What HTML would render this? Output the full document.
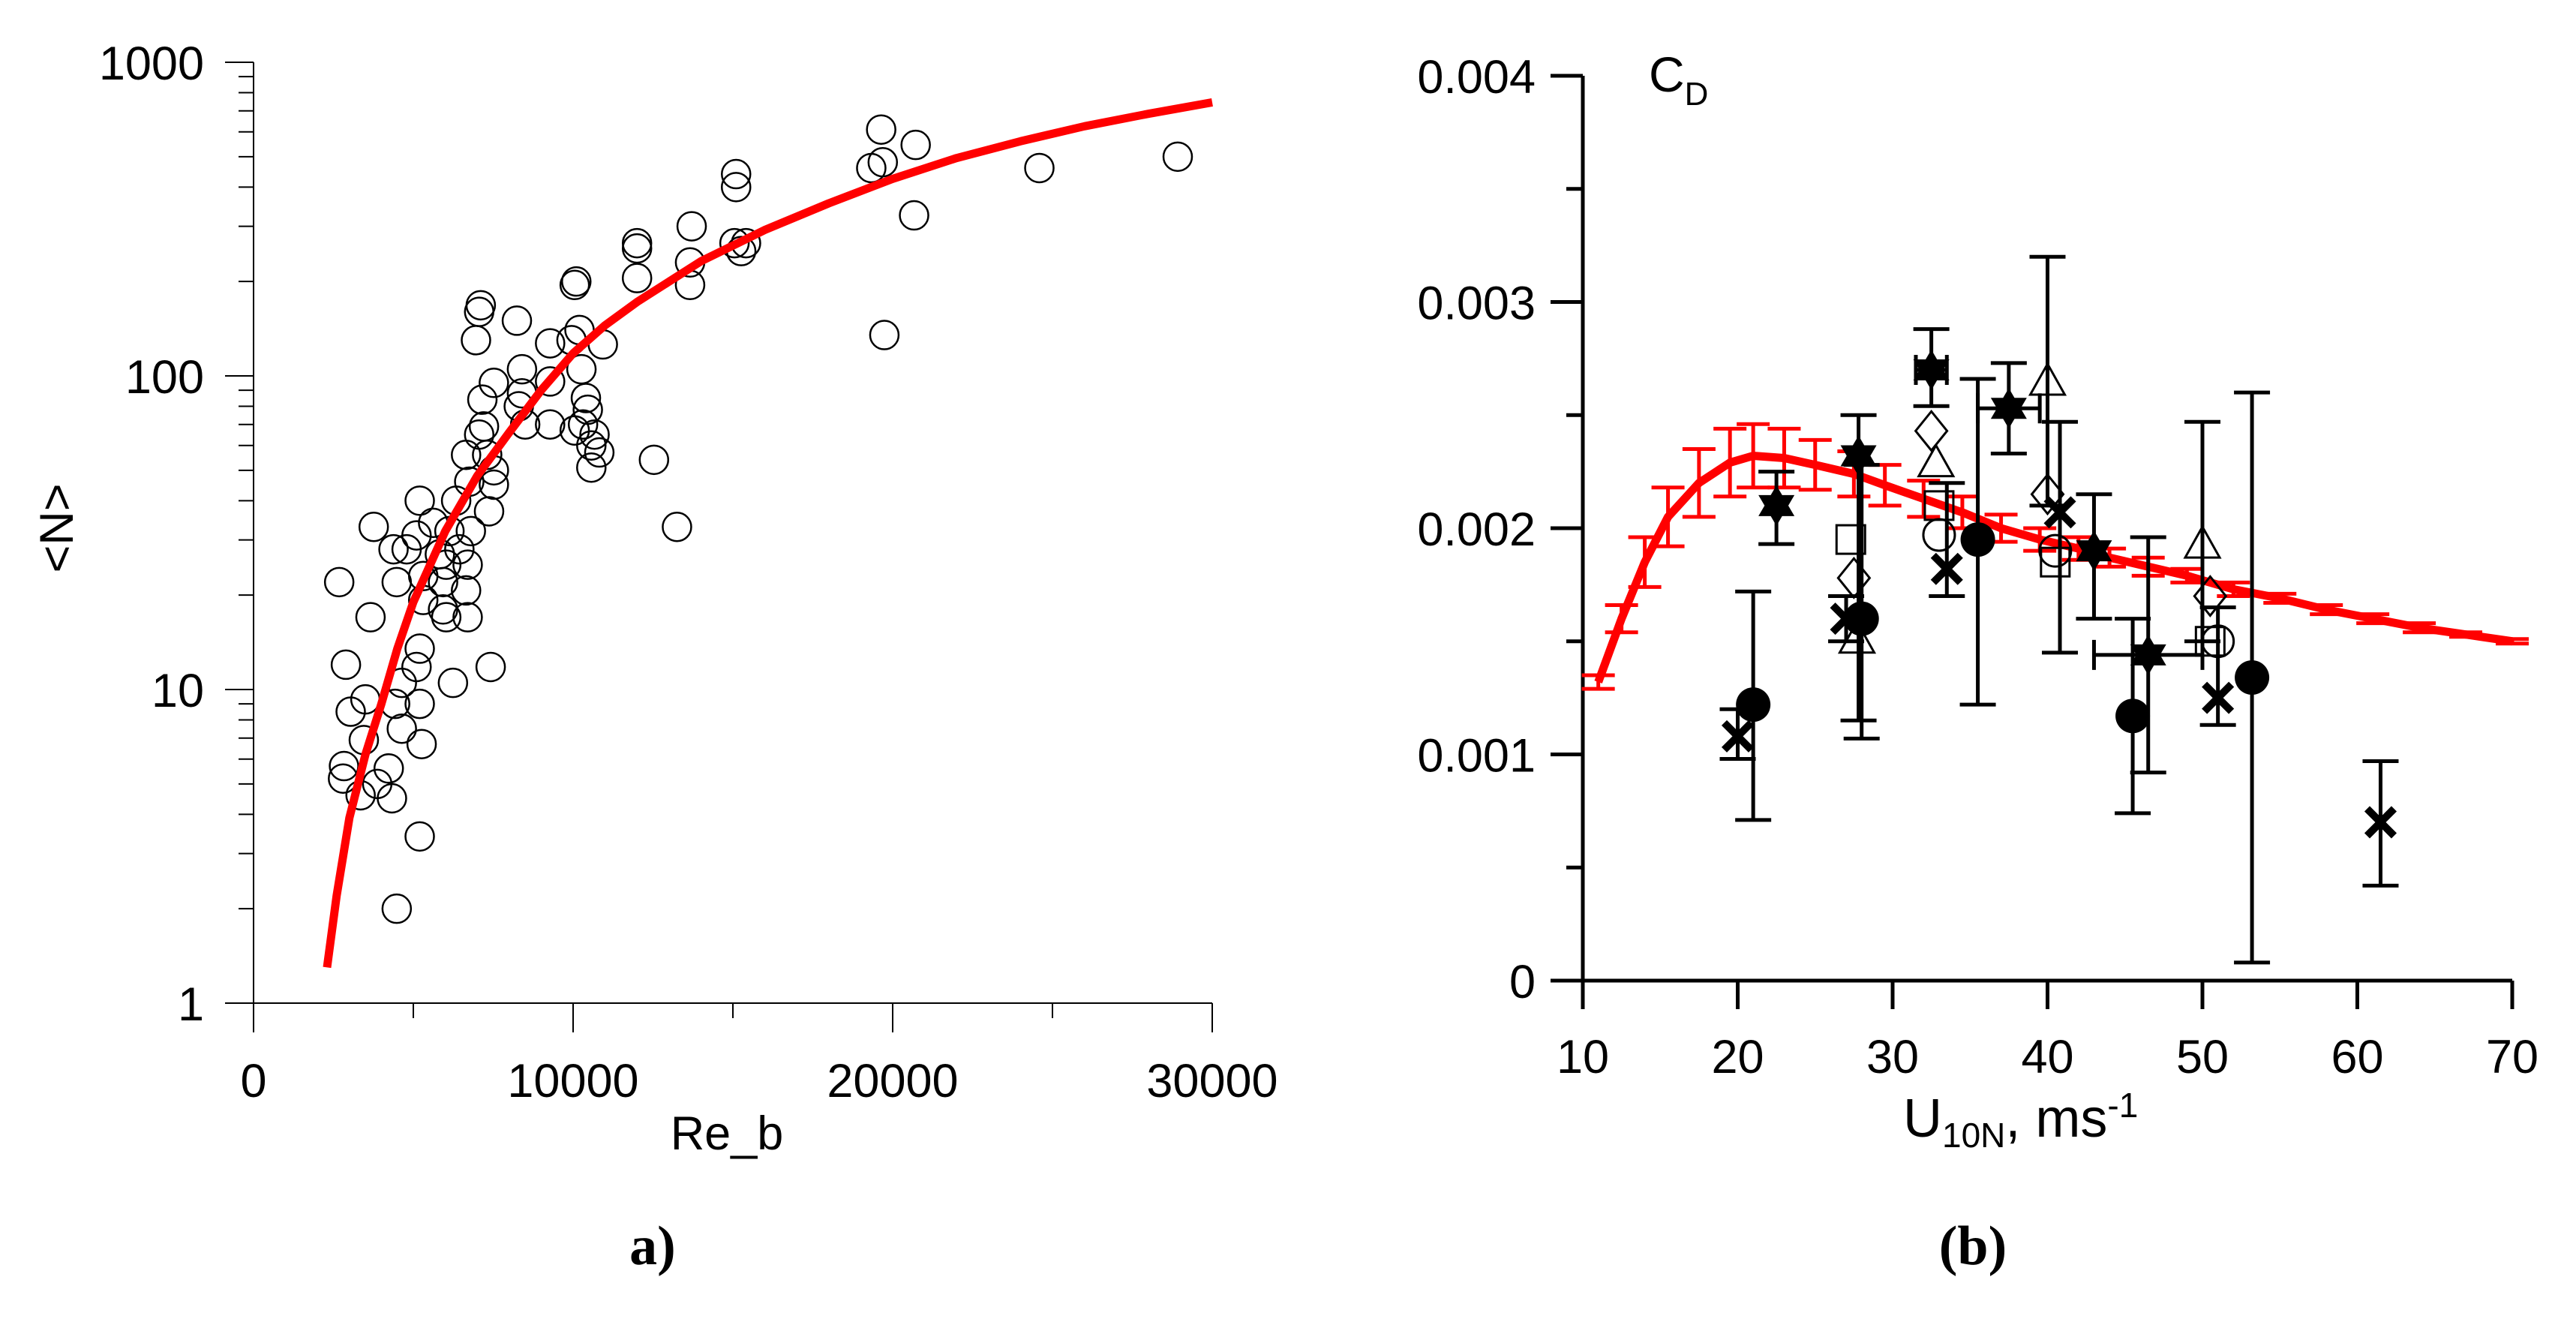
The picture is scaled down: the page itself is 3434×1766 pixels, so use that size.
<!DOCTYPE html>
<html><head><meta charset="utf-8"><style>
body{margin:0;background:#fff}
svg text{font-family:"Liberation Sans",sans-serif}
</style></head><body>
<svg id="svg" width="3434" height="1761" viewBox="0 0 3434 1761" xmlns="http://www.w3.org/2000/svg">
<g id="left"></g>
<g id="right"></g>
<text x="870" y="1685" font-weight="bold" font-size="74" text-anchor="middle" style="font-family:'Liberation Serif',serif">a)</text>
<text x="2630" y="1685" font-weight="bold" font-size="74" text-anchor="middle" style="font-family:'Liberation Serif',serif">(b)</text>
</svg>
<script>
// ---- Panel a data ----
const reB = [2680,2890,3040,2830,2800,3760,3500,3660,3450,3350,3870,4480,4330,4230,4640,4430,4640,4480,4380,4790,5100,5200,5200,5100,5200,5260,5200,5310,5310,5620,5830,5930,5930,6130,6030,6340,6440,6030,6240,6650,6750,6800,6700,6650,6700,7110,7060,6960,7160,7210,7060,7310,7520,7520,7370,7420,7520,8240,8400,8400,8300,8500,9280,9280,9280,9950,10200,10100,10050,10260,10400,10460,10310,10570,10570,10670,10820,10050,10930,12530,13250,12000,12000,12000,13660,13710,13660,15100,15100,15050,15260,15410,19330,19640,19690,19740,20720,20670,24590,28920];
const nVals = [22,12,8.5,5.7,5.2,33,9.3,17,6.9,4.6,5,2,4.5,5.6,7.5,9,10.5,22,28,28,31,40,13.5,11.8,9,6.7,3.4,23,19.3,34,27,18,22,32,25,40,28,17,10.5,56,46,32,25,20.7,17,168,160,130,84,69,65,56,50,45,37,11.8,95,150,105,88,80,70,127,96,70,130,140,200,195,105,85,78,70,60,51,65,57,67,126,54,33,265,255,205,195,300,230,440,400,265,250,265,460,610,480,135,545,325,460,500];
const fitRe = [2300,2600,3000,3500,4000,4500,5000,6000,7000,8000,9000,10000,11000,12000,14000,16000,18000,20000,22000,24000,26000,28000,30000];
const fitN = [1.3,2.2,3.9,6.2,9,13.5,19,32,48,66,90,118,145,172,232,292,355,425,495,560,625,685,745];
const xTicksA = [0,10000,20000,30000];
const yTicksA = [1,10,100,1000];

// ---- Panel b data ----
const fitU = [11,12.5,14,15.5,17.5,19.5,21,23,25,27.5,29.5,32,34.5,37,39.5,42,44,46.5,49,52,55,58,61,64,67,70];
const fitCd = [0.00132,0.0016,0.00185,0.00205,0.0022,0.00229,0.00232,0.00231,0.00228,0.00224,0.00219,0.00213,0.00207,0.002,0.00195,0.00191,0.00187,0.00183,0.00179,0.00173,0.00169,0.00164,0.0016,0.00156,0.00153,0.0015];
const fitErr = [0.00003,0.00006,0.00011,0.00013,0.00015,0.00015,0.00014,0.00013,0.00011,0.0001,0.00009,0.00008,0.00007,0.00006,0.00005,0.00005,0.00004,0.00004,0.00003,0.00003,0.00002,0.00002,0.00002,0.00002,0.00001,0.00001];
const obsType = ['x','dot','star','x','dot','star','sq','dia','tri','star','dia','tri','sq','circ','x','dot','star','tri','dia','x','circ','sq','star','dot','star','tri','dia','sq','circ','x','dot','x'];
const obsU = [20,21,22.5,27,28,27.8,27.3,27.5,27.7,32.5,32.5,32.8,33,33,33.5,35.5,37.5,40,40,40.8,40.5,40.5,43,45.5,46.5,50,50.5,50.5,51,51,53.2,61.5];
const obsCd = [0.00108,0.00122,0.0021,0.0016,0.0016,0.00232,0.00195,0.00178,0.0015,0.0027,0.00243,0.00228,0.0021,0.00197,0.00182,0.00195,0.00253,0.00264,0.00215,0.00207,0.0019,0.00185,0.0019,0.00117,0.00144,0.00192,0.0017,0.0015,0.0015,0.00125,0.00134,0.0007];
const obsLo = [0.00098,0.00071,0.00193,0.0015,0.00107,0.00115,0,0,0,0.00254,0,0,0,0,0.0017,0.00122,0.00233,0.0021,0,0.00145,0,0,0.0016,0.00074,0.00092,0.0015,0,0,0,0.00113,0.00008,0.00042];
const obsHi = [0.0012,0.00172,0.00225,0.0017,0.00228,0.0025,0,0,0,0.00288,0,0,0,0,0.0022,0.00266,0.00273,0.0032,0,0.00247,0,0,0.00215,0.0016,0.00196,0.00247,0,0,0,0.00165,0.0026,0.00097];
const obsUlo = [0,0,0,0,0,0,0,0,0,31.5,0,0,0,0,0,0,35.5,0,0,0,0,0,0,0,43,0,0,0,0,0,0,0];
const obsUhi = [0,0,0,0,0,0,0,0,0,33.5,0,0,0,0,0,0,39.5,0,0,0,0,0,0,0,50,0,0,0,0,0,0,0];
const xTicksB = [10,20,30,40,50,60,70];
const yTicksB = [0,0.001,0.002,0.003,0.004];
const yTickLabB = ['0','0.001','0.002','0.003','0.004'];

const NS='http://www.w3.org/2000/svg';
function mk(parent,tag,attrs,txt){const e=document.createElementNS(NS,tag);for(const k in attrs)e.setAttribute(k,attrs[k]);if(txt!==undefined)e.textContent=txt;parent.appendChild(e);return e;}

// ---- Panel a ----
const L=document.getElementById('left');
const ax=v=>338+v/30000*(1616-338);
const ay=v=>1337-Math.log10(v)/3*(1337-83);
let e;
e=mk(L,'line',{x1:338,y1:83,x2:338,y2:1376,stroke:'#000','stroke-width':2});


e=mk(L,'line',{x1:338,y1:1337,x2:1616,y2:1337,stroke:'#000','stroke-width':2});


for(let d=0;d<3;d++)for(let m=2;m<10;m++){const y=ay(m*Math.pow(10,d));e=mk(L,'line',{x1:318,y1:y,x2:338,y2:y,stroke:'#000','stroke-width':2});

}
yTicksA.forEach(v=>{const y=ay(v);e=mk(L,'line',{x1:300,y1:y,x2:338,y2:y,stroke:'#000','stroke-width':2});


e=mk(L,'text',{x:272,y:y+23,'font-size':63,'text-anchor':'end'},String(v));

});
[5000,15000,25000].forEach(v=>{e=mk(L,'line',{x1:ax(v),y1:1337,x2:ax(v),y2:1357,stroke:'#000','stroke-width':2});

});
xTicksA.forEach(v=>{const x=ax(v);e=mk(L,'line',{x1:x,y1:1337,x2:x,y2:1376,stroke:'#000','stroke-width':2});


e=mk(L,'text',{x:x,y:1462,'font-size':63,'text-anchor':'middle'},String(v));

});
e=mk(L,'text',{x:969,y:1532,'font-size':63,'text-anchor':'middle'},'Re_b');


e=mk(L,'text',{x:0,y:0,'font-size':63,'text-anchor':'middle',transform:'translate(97,704) rotate(-90)'},'<N>');


reB.forEach((r,i)=>{e=mk(L,'circle',{cx:ax(r),cy:ay(nVals[i]),r:19,fill:'none',stroke:'#000','stroke-width':2.5});

});
e=mk(L,'polyline',{points:fitRe.map((r,i)=>ax(r)+','+ay(fitN[i])).join(' '),fill:'none',stroke:'#f00','stroke-width':11,'stroke-linejoin':'round'});



// ---- Panel b ----
const R=document.getElementById('right');
const bx=v=>2110+(v-10)/60*(3349-2110);
const by=v=>1307-v/0.004*(1307-101);
e=mk(R,'line',{x1:2110,y1:101,x2:2110,y2:1345,stroke:'#000','stroke-width':5});


e=mk(R,'line',{x1:2110,y1:1307,x2:3349,y2:1307,stroke:'#000','stroke-width':5});


[0.0005,0.0015,0.0025,0.0035].forEach(v=>{e=mk(R,'line',{x1:2088,y1:by(v),x2:2110,y2:by(v),stroke:'#000','stroke-width':5});

});
yTicksB.forEach((v,i)=>{const y=by(v);e=mk(R,'line',{x1:2067,y1:y,x2:2110,y2:y,stroke:'#000','stroke-width':5});


e=mk(R,'text',{x:2047,y:y+23,'font-size':63,'text-anchor':'end'},yTickLabB[i]);

});
xTicksB.forEach(v=>{const x=bx(v);e=mk(R,'line',{x1:x,y1:1307,x2:x,y2:1345,stroke:'#000','stroke-width':5});


e=mk(R,'text',{x:x,y:1430,'font-size':63,'text-anchor':'middle'},String(v));

});
e=mk(R,'text',{x:2537,y:1515,'font-size':72},'');


e.innerHTML='U<tspan font-size="46" dy="14">10N</tspan><tspan dy="-14">, ms</tspan><tspan font-size="46" dy="-26">-1</tspan>';
e=mk(R,'text',{x:2198,y:122,'font-size':66},'');


e.innerHTML='C<tspan font-size="44" dy="18">D</tspan>';
// red fit with error bars
fitU.forEach((u,i)=>{const x=bx(u),h=by(fitCd[i]+fitErr[i]),l=by(fitCd[i]-fitErr[i]);
e=mk(R,'path',{d:`M${x},${h}V${l}M${x-22},${h}H${x+22}M${x-22},${l}H${x+22}`,stroke:'#f00','stroke-width':5,fill:'none'});

});
e=mk(R,'polyline',{points:fitU.map((u,i)=>bx(u)+','+by(fitCd[i])).join(' '),fill:'none',stroke:'#f00','stroke-width':11,'stroke-linejoin':'round'});


// observations
obsU.forEach((u,i)=>{const x=bx(u),y=by(obsCd[i]);
if(obsHi[i]>0){const h=by(obsHi[i]),l=by(obsLo[i]);
e=mk(R,'path',{d:`M${x},${h}V${l}M${x-24},${h}H${x+24}M${x-24},${l}H${x+24}`,stroke:'#000','stroke-width':5,fill:'none'});

}
if(obsUhi[i]>0){const a=bx(obsUlo[i]),b=bx(obsUhi[i]);
e=mk(R,'path',{d:`M${a},${y}H${b}M${a},${y-20}V${y+20}M${b},${y-20}V${y+20}`,stroke:'#000','stroke-width':5,fill:'none'});

}
const t=obsType[i];
if(t==='dot')e=mk(R,'circle',{cx:x,cy:y,r:23,fill:'#000'});
else if(t==='circ')e=mk(R,'circle',{cx:x,cy:y,r:21,fill:'none',stroke:'#000','stroke-width':3});
else if(t==='x')e=mk(R,'path',{d:`M${x-18},${y-18}L${x+18},${y+18}M${x-18},${y+18}L${x+18},${y-18}`,stroke:'#000','stroke-width':10});
else if(t==='star'){e=mk(R,'path',{d:`M${x},${y-27}L${x+24},${y+14}L${x-24},${y+14}Z`,fill:'#000'});


e=mk(R,'path',{d:`M${x},${y+27}L${x-24},${y-14}L${x+24},${y-14}Z`,fill:'#000'});}
else if(t==='sq')e=mk(R,'rect',{x:x-19,y:y-19,width:38,height:38,fill:'none',stroke:'#000','stroke-width':3});
else if(t==='dia')e=mk(R,'path',{d:`M${x},${y-26}L${x+21},${y}L${x},${y+26}L${x-21},${y}Z`,fill:'none',stroke:'#000','stroke-width':3});
else e=mk(R,'path',{d:`M${x},${y-26}L${x+23},${y+15}L${x-23},${y+15}Z`,fill:'none',stroke:'#000','stroke-width':3});


});
</script>
</body></html>
